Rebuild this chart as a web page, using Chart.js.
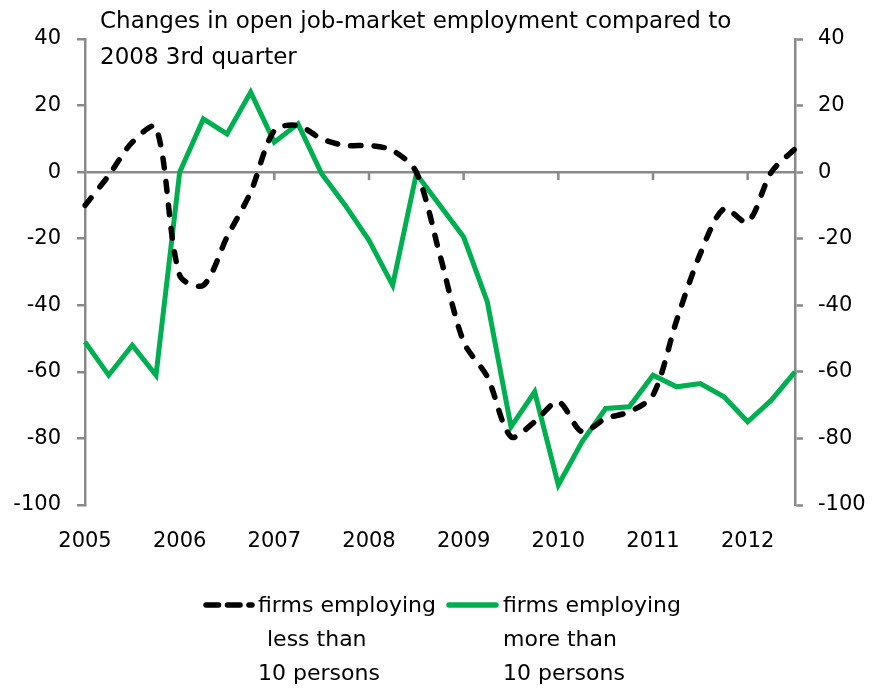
<!DOCTYPE html>
<html>
<head>
<meta charset="utf-8">
<script src="https://cdn.jsdelivr.net/npm/chart.js@4/dist/chart.umd.min.js"></script>
<style>
  html, body { margin: 0; padding: 0; background: #ffffff; }
  #wrap { width: 876px; height: 691px; position: relative; }
</style>
</head>
<body>
<div id="wrap"><canvas id="c" width="876" height="691"></canvas></div>
<script>
// ---------------- data ----------------
const quarters = [
  '2005 Q1','2005 Q2','2005 Q3','2005 Q4',
  '2006 Q1','2006 Q2','2006 Q3','2006 Q4',
  '2007 Q1','2007 Q2','2007 Q3','2007 Q4',
  '2008 Q1','2008 Q2','2008 Q3','2008 Q4',
  '2009 Q1','2009 Q2','2009 Q3','2009 Q4',
  '2010 Q1','2010 Q2','2010 Q3','2010 Q4',
  '2011 Q1','2011 Q2','2011 Q3','2011 Q4',
  '2012 Q1','2012 Q2','2012 Q3'
];
const smallFirms = [
  -10, -1, 9, 13.5,
  -31, -34, -19.5, -6,
  12.5, 14, 10, 8,
  8, 6.5, 0, -25,
  -51, -61.5, -79.5, -75,
  -69, -78, -74, -72,
  -67, -44.5, -24.5, -11,
  -15, 0, 7
];
const largeFirms = [
  -51, -61, -52, -61,
  0, 16, 11.5, 24,
  9, 14.5, -0.5, -10,
  -20.5, -34, -0.5, -10,
  -19.5, -39, -76.5, -66,
  -94, -81, -71, -70.5,
  -61, -64.5, -63.5, -67.5,
  -75, -68.5, -60
];
const seriesNames = [
  'firms employing less than 10 persons',
  'firms employing more than 10 persons'
];
const legendLines = [
  ['firms employing', 'less than', '10 persons'],
  ['firms employing', 'more than', '10 persons']
];
const titleLines = ['Changes in open job-market employment compared to', '2008 3rd quarter'];
const yMin = -100, yMax = 40, yStep = 20;

// ---------------- styles ----------------
const FONT = '"DejaVu Sans", Verdana, sans-serif';
const AXIS_GRAY = '#898989';
const GREEN = '#00b050';
const BLACK = '#000000';
const BLACK_DASH = [10, 13.5];
const LEGEND_DASH = [12.5, 9];

const axisDecor = {
  id: 'axisDecor',
  beforeDatasetsDraw(chart) {
    const ctx = chart.ctx, xs = chart.scales.x, ys = chart.scales.y;
    const y0 = ys.getPixelForValue(0);
    ctx.save();
    ctx.strokeStyle = AXIS_GRAY;
    ctx.lineWidth = 2.5;
    quarters.forEach((q, i) => {
      if (i > 0 && q.endsWith('Q1')) {
        const px = xs.getPixelForValue(i);
        ctx.beginPath();
        ctx.moveTo(px, y0);
        ctx.lineTo(px, y0 + 8);
        ctx.stroke();
      }
    });
    ctx.restore();
  },
  afterDraw(chart) {
    const ctx = chart.ctx;
    ctx.save();
    // title
    ctx.fillStyle = '#000';
    ctx.font = '23px ' + FONT;
    ctx.textAlign = 'left';
    ctx.textBaseline = 'alphabetic';
    const tx = chart.chartArea.left + 15;
    titleLines.forEach((t, i) => ctx.fillText(t, tx, 28 + i * 36));

    // legend
    const items = [
      { x0: 206, x1: 252, tx: 258, indent: [0, 9, 0], color: BLACK, dash: LEGEND_DASH, w: 5.5 },
      { x0: 449, x1: 496, tx: 503, indent: [0, 0, 0], color: GREEN, dash: [], w: 5.5 }
    ];
    const ly = 605, lb = 612, lh = 34;
    items.forEach((it, k) => {
      ctx.beginPath();
      ctx.setLineDash(it.dash);
      ctx.lineCap = 'round';
      ctx.strokeStyle = it.color;
      ctx.lineWidth = it.w;
      ctx.moveTo(it.x0, ly);
      ctx.lineTo(it.x1, ly);
      ctx.stroke();
      ctx.setLineDash([]);
      ctx.font = '22px ' + FONT;
      ctx.fillStyle = '#000';
      legendLines[k].forEach((t, j) => ctx.fillText(t, it.tx + it.indent[j], lb + j * lh));
    });
    ctx.restore();
  }
};

const tickFont = { family: FONT, size: 21 };

new Chart(document.getElementById('c'), {
  type: 'line',
  data: {
    labels: quarters,
    datasets: [
      {
        label: seriesNames[0],
        data: smallFirms,
        borderColor: BLACK,
        borderWidth: 5.5,
        borderDash: BLACK_DASH,
        borderCapStyle: 'round',
        borderJoinStyle: 'round',
        tension: 0.3,
        pointRadius: 0,
        fill: false
      },
      {
        label: seriesNames[1],
        data: largeFirms,
        borderColor: GREEN,
        borderWidth: 5,
        tension: 0,
        pointRadius: 0,
        fill: false
      }
    ]
  },
  options: {
    responsive: false,
    animation: false,
    devicePixelRatio: 1,
    layout: { padding: { top: 39, left: 0, right: 0, bottom: 0 } },
    plugins: {
      legend: { display: false },
      title: { display: false },
      tooltip: { enabled: false }
    },
    scales: {
      x: {
        type: 'category',
        offset: false,
        grid: { display: false, drawTicks: false },
        border: { display: false },
        ticks: {
          autoSkip: false, maxRotation: 0, minRotation: 0,
          padding: 24, color: '#000', font: tickFont,
          callback(value, index) {
            const q = quarters[index];
            return q.endsWith('Q1') ? q.slice(0, 4) : '';
          }
        },
        afterFit(s) { s.height = 186; }
      },
      y: {
        position: 'left',
        min: yMin, max: yMax,
        ticks: { stepSize: yStep, padding: 16, color: '#000', font: tickFont },
        grid: {
          color: c => (c.tick && c.tick.value === 0) ? AXIS_GRAY : 'rgba(0,0,0,0)',
          lineWidth: 2.5,
          drawTicks: true, tickLength: 8, tickColor: AXIS_GRAY, tickWidth: 2.5
        },
        border: { display: true, color: AXIS_GRAY, width: 2.5 },
        afterFit(s) { s.width = 85; }
      },
      y2: {
        position: 'right',
        min: yMin, max: yMax,
        ticks: { stepSize: yStep, padding: 15, color: '#000', font: tickFont },
        grid: {
          drawOnChartArea: false,
          drawTicks: true, tickLength: 8, tickColor: AXIS_GRAY, tickWidth: 2.5
        },
        border: { display: true, color: AXIS_GRAY, width: 2.5 },
        afterFit(s) { s.width = 81; }
      }
    }
  },
  plugins: [axisDecor]
});
</script>
</body>
</html>
